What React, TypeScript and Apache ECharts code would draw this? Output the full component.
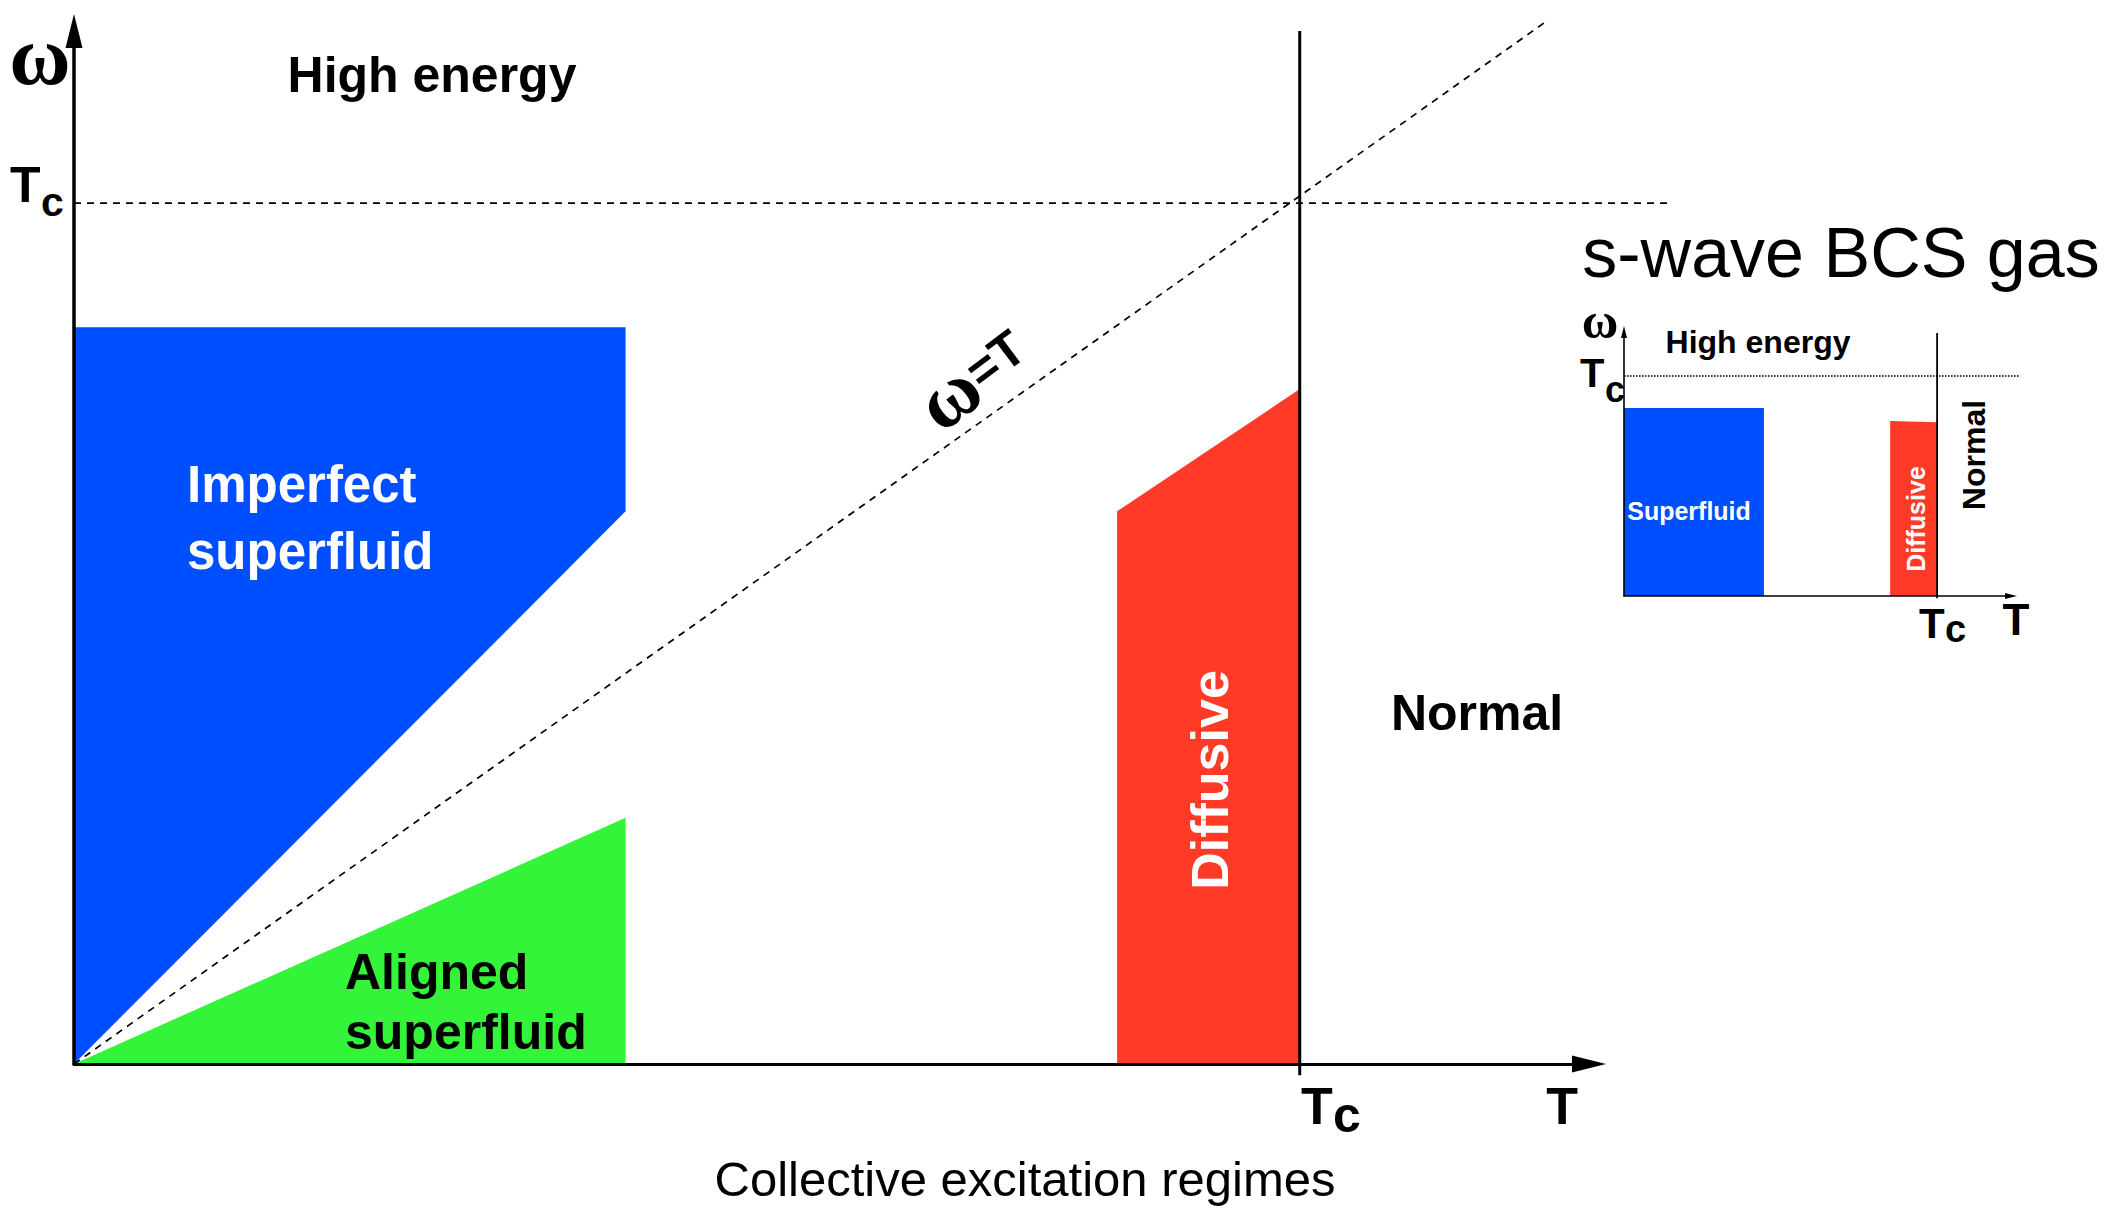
import React, { useEffect, useRef } from "react";
import * as echarts from "echarts";

// ---- Main diagram (units: T / Tc on x, omega / Tc on y) ----
const mainImperfect: number[][] = [[0, 0], [0, 0.856], [0.45, 0.856], [0.45, 0.642]];
const mainAligned: number[][] = [[0, 0], [0.45, 0.286], [0.45, 0]];
const mainDiffusive: number[][] = [[0.851, 0], [0.851, 0.642], [1, 0.784], [1, 0]];
const mainTcLevel: number[][] = [[0, 1], [1.303, 1]];
const mainOmegaEqT: number[][] = [[0, 0], [1.2, 1.21]];
const mainTcBoundary: number[][] = [[1, -0.013], [1, 1.2]];

// ---- Inset: s-wave BCS gas ----
const insetSuperfluid: number[][] = [[0, 0], [0, 0.855], [0.447, 0.855], [0.447, 0]];
const insetDiffusive: number[][] = [[0.85, 0], [0.85, 0.795], [1, 0.79], [1, 0]];
const insetTcLevel: number[][] = [[0, 1], [1.262, 1]];
const insetTcBoundary: number[][] = [[1, -0.01], [1, 1.195]];

const X_MAX = 1.236;
const Y_MAX = 1.2;

const BLUE = "#004FFF";
const GREEN = "#34F43A";
const RED = "#FF3B27";

const SANS = '"Liberation Sans", Arial, Helvetica, sans-serif';
const SERIF = '"Liberation Serif", "Times New Roman", serif';

function axis(gridIndex: number, max: number, width: number, sym: number[]) {
  return {
    type: "value",
    gridIndex,
    min: 0,
    max,
    z: 5,
    axisLine: {
      show: true,
      onZero: false,
      symbol: ["none", "triangle"],
      symbolSize: sym,
      lineStyle: { color: "#000", width },
    },
    axisTick: { show: false },
    axisLabel: { show: false },
    splitLine: { show: false },
  };
}

function region(idx: number, pts: number[][], color: string) {
  return {
    type: "custom",
    xAxisIndex: idx,
    yAxisIndex: idx,
    data: pts,
    silent: true,
    clip: false,
    z: 2,
    renderItem: (params: any, api: any) => {
      if (params.dataIndex !== 0) return null;
      const points = pts.map((p) => api.coord(p));
      return { type: "polygon", shape: { points }, style: { fill: color } };
    },
  };
}

function seg(idx: number, pts: number[][], width: number, dash: number[] | null, z = 3) {
  return {
    type: "custom",
    xAxisIndex: idx,
    yAxisIndex: idx,
    data: pts,
    silent: true,
    clip: false,
    z,
    renderItem: (params: any, api: any) => {
      if (params.dataIndex !== 0) return null;
      const points = pts.map((p) => api.coord(p));
      return {
        type: "polyline",
        shape: { points },
        style: { stroke: "#000", lineWidth: width, fill: null, lineDash: dash || null },
      };
    },
  };
}

function txt(text: string, x: number, y: number, font: string, opts: any = {}) {
  return {
    type: "text",
    x,
    y,
    rotation: opts.rotation || 0,
    z: 10,
    silent: true,
    style: {
      text,
      font,
      fill: opts.fill || "#000",
      align: opts.align || "center",
      textAlign: opts.align || "center",
      verticalAlign: "middle",
      textVerticalAlign: "middle",
    },
  };
}

// "T" with subscript "c" as one rich text; x = left edge, y = centre of T
function tc(x: number, y: number, tSize: number, cSize: number, tWidth: number, drop: number) {
  return {
    type: "text",
    x,
    y,
    z: 10,
    silent: true,
    style: {
      text: "{t|T}{c|c}",
      rich: {
        t: { font: `bold ${tSize}px ${SANS}`, width: tWidth },
        c: { font: `bold ${cSize}px ${SANS}`, padding: [drop * 2, 0, 0, 0] },
      },
      fill: "#000",
      align: "left",
      textAlign: "left",
      verticalAlign: "middle",
      textVerticalAlign: "middle",
    },
  };
}

export default function App() {
  const ref = useRef<HTMLDivElement>(null);
  useEffect(() => {
    if (!ref.current) return;
    const chart = echarts.init(ref.current, undefined, { renderer: "svg" });
    const option: any = {
      animation: false,
      backgroundColor: "#fff",
      grid: [
        { left: 74, top: 31, width: 1515, height: 1033 },
        { left: 1624, top: 332, width: 387, height: 264 },
      ],
      xAxis: [axis(0, X_MAX, 3, [17, 34]), axis(1, X_MAX, 1.6, [6, 12])],
      yAxis: [axis(0, Y_MAX, 3.5, [17, 34]), axis(1, Y_MAX, 1.6, [6, 12])],
      series: [
        region(0, mainImperfect, BLUE),
        region(0, mainAligned, GREEN),
        region(0, mainDiffusive, RED),
        seg(0, mainTcLevel, 1.7, [7, 6]),
        seg(0, mainOmegaEqT, 1.7, [7, 6]),
        seg(0, mainTcBoundary, 3, null, 4),
        region(1, insetSuperfluid, BLUE),
        region(1, insetDiffusive, RED),
        seg(1, insetTcLevel, 1.6, [1.6, 1.4]),
        seg(1, insetTcBoundary, 1.8, null, 4),
      ],
      graphic: [
        // main
        txt("ω", 40, 55, `bold 84px ${SERIF}`),
        txt("High energy", 432, 75, `bold 50px ${SANS}`),
        tc(10, 185, 50, 41, 31, 17),
        txt("Imperfect", 187, 484, `bold 51px ${SANS}`, { align: "left", fill: "#fff" }),
        txt("superfluid", 187, 551, `bold 51px ${SANS}`, { align: "left", fill: "#fff" }),
        txt("Aligned", 345, 972, `bold 50px ${SANS}`, { align: "left" }),
        txt("superfluid", 345, 1032, `bold 50px ${SANS}`, { align: "left" }),
        {
          type: "text",
          x: 972,
          y: 377,
          rotation: (37 * Math.PI) / 180,
          z: 10,
          silent: true,
          style: {
            text: "{w|ω}{e|=T}",
            rich: {
              w: { font: `bold 80px ${SERIF}` },
              e: { font: `bold 50px ${SANS}` },
            },
            align: "center",
            textAlign: "center",
            verticalAlign: "middle",
            textVerticalAlign: "middle",
          },
        },
        txt("Diffusive", 1210, 780, `bold 52px ${SANS}`, { fill: "#fff", rotation: Math.PI / 2 }),
        txt("Normal", 1477, 713, `bold 50px ${SANS}`),
        tc(1301, 1106, 52, 50, 32, 9),
        txt("T", 1562, 1106, `bold 52px ${SANS}`),
        txt("Collective excitation regimes", 1025, 1179, `49px ${SANS}`),
        // inset
        txt("s-wave BCS gas", 1841, 253, `70px ${SANS}`),
        txt("ω", 1600, 321, `bold 50px ${SERIF}`),
        txt("High energy", 1758, 342, `bold 32px ${SANS}`),
        tc(1580, 373, 40, 36, 25, 16),
        txt("Superfluid", 1689, 511, `bold 25px ${SANS}`, { fill: "#fff" }),
        txt("Diffusive", 1916, 519, `bold 25px ${SANS}`, { fill: "#fff", rotation: Math.PI / 2 }),
        txt("Normal", 1974, 455, `bold 32px ${SANS}`, { rotation: Math.PI / 2 }),
        tc(1919, 623, 42, 38, 26, 6),
        txt("T", 2016, 619, `bold 44px ${SANS}`),
      ],
    };
    chart.setOption(option);
    return () => chart.dispose();
  }, []);
  return (
    <div
      ref={ref}
      style={{ position: "fixed", left: 0, top: 0, width: 2119, height: 1209, background: "#fff" }}
    />
  );
}
